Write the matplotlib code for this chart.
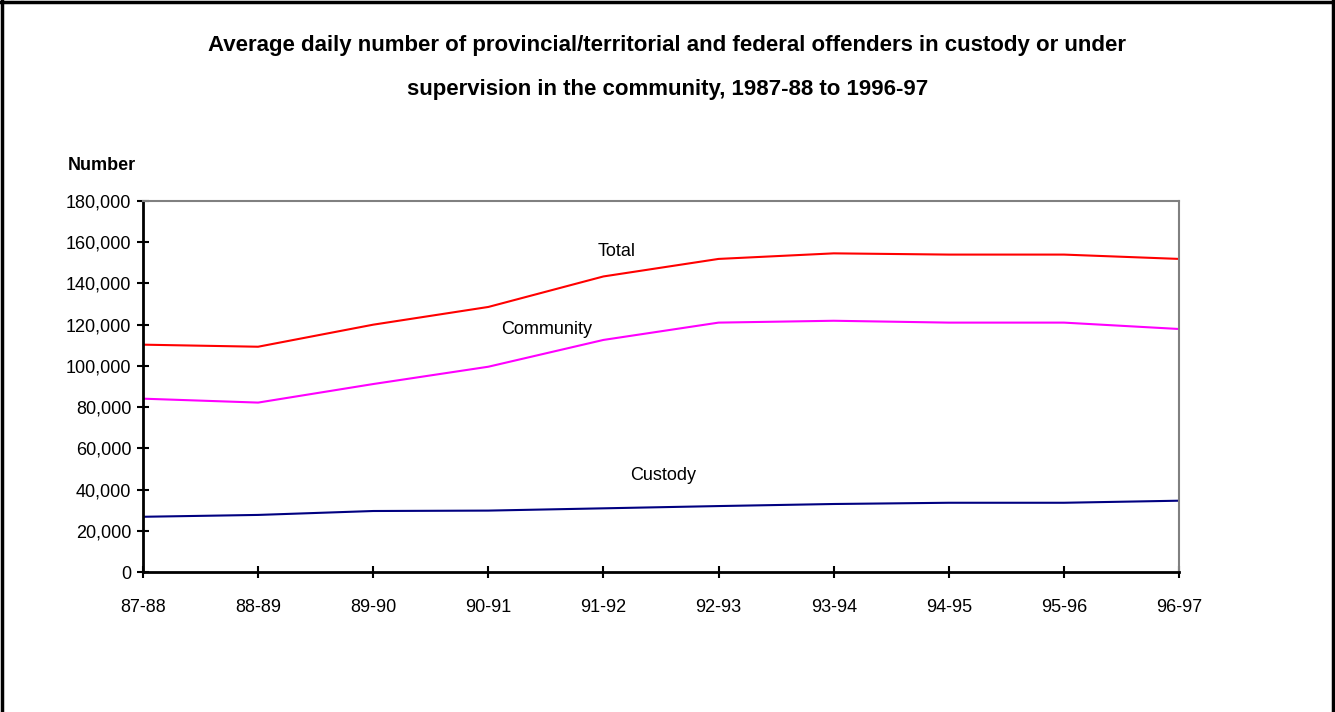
import matplotlib
matplotlib.use('Agg')
import matplotlib.pyplot as plt
from matplotlib.lines import Line2D
from matplotlib.ticker import FuncFormatter

plt.rcParams['font.family'] = ['Liberation Sans', 'DejaVu Sans']

years = ['87-88', '88-89', '89-90', '90-91', '91-92',
         '92-93', '93-94', '94-95', '95-96', '96-97']
total = [110300, 109300, 120000, 128600, 143400,
         151900, 154600, 154000, 154000, 151900]
community = [84100, 82200, 91200, 99600, 112600,
             121000, 121900, 121000, 121000, 117900]
custody = [26800, 27700, 29600, 29800, 30900,
           32000, 33000, 33600, 33600, 34600]

fig = plt.figure(figsize=(13.35, 7.12), dpi=100)
ax = fig.add_axes([0.1071, 0.1966, 0.7761, 0.5211])

x = range(len(years))
ax.plot(x, total, color='#FF0000', lw=1.5)
ax.plot(x, community, color='#FF00FF', lw=1.5)
ax.plot(x, custody, color='#000080', lw=1.5)

# inline series labels
ax.text(4.11, 155500, 'Total', fontsize=13, ha='center', va='center')
ax.text(3.51, 117900, 'Community', fontsize=13, ha='center', va='center')
ax.text(4.52, 46600, 'Custody', fontsize=13, ha='center', va='center')

ax.set_xlim(0, len(years) - 1)
ax.set_ylim(0, 180000)
ax.set_yticks(range(0, 180001, 20000))
ax.yaxis.set_major_formatter(FuncFormatter(lambda v, p: f'{int(v):,}'))
ax.set_xticks(list(x))
ax.set_xticklabels(years)
ax.tick_params(axis='both', labelsize=13, direction='inout', length=9, width=1.5)
ax.tick_params(axis='x', pad=15)
ax.tick_params(axis='y', pad=4)

for side in ('left', 'bottom'):
    ax.spines[side].set_color('black')
    ax.spines[side].set_linewidth(2)
for side in ('top', 'right'):
    ax.spines[side].set_color('#808080')
    ax.spines[side].set_linewidth(1.5)

fig.text(0.0509, 0.768, 'Number', fontsize=13, fontweight='bold', va='center')

fig.text(0.5, 0.936, 'Average daily number of provincial/territorial and federal offenders in custody or under',
         fontsize=16, fontweight='bold', ha='center', va='center')
fig.text(0.5, 0.875, 'supervision in the community, 1987-88 to 1996-97',
         fontsize=16, fontweight='bold', ha='center', va='center')

# outer frame (left, top, right)
for xs, ys in [([0.0015, 0.0015], [0, 1]), ([0, 1], [0.997, 0.997]), ([0.9985, 0.9985], [0, 1])]:
    fig.add_artist(Line2D(xs, ys, color='black', lw=2.5, transform=fig.transFigure))

plt.savefig('out.png', dpi=100)
